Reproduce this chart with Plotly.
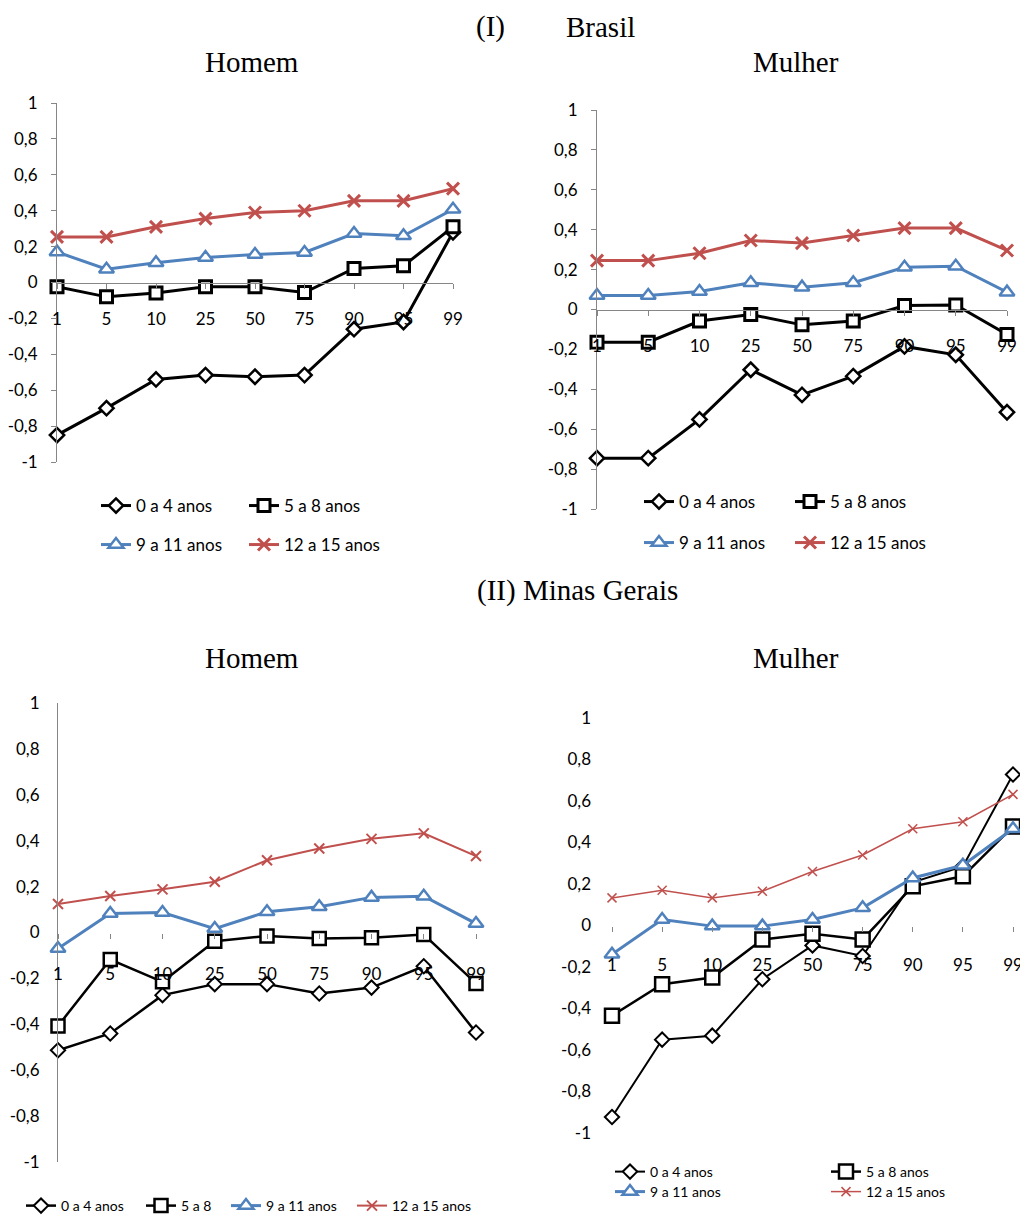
import plotly.graph_objects as go

# page body margin in the viewer is 8px: figure is drawn 8px right/down
OFF = 8
W, H = 1028 - OFF, 1216 - OFF

percentis = ["1", "5", "10", "25", "50", "75", "90", "95", "99"]
series_names = ["0 a 4 anos", "5 a 8 anos", "9 a 11 anos", "12 a 15 anos"]
series_names_p3 = ["0 a 4 anos", "5 a 8", "9 a 11 anos", "12 a 15 anos"]

y_tickvals = [-1, -0.8, -0.6, -0.4, -0.2, 0, 0.2, 0.4, 0.6, 0.8, 1]
y_ticktext = ["-1", "-0,8", "-0,6", "-0,4", "-0,2", "0", "0,2", "0,4", "0,6", "0,8", "1"]

# (I) Brasil - Homem
br_h_0_4 = [-0.85, -0.70, -0.54, -0.516, -0.525, -0.516, -0.26, -0.22, 0.28]
br_h_5_8 = [-0.024, -0.08, -0.058, -0.024, -0.024, -0.056, 0.078, 0.093, 0.31]
br_h_9_11 = [0.17, 0.074, 0.11, 0.139, 0.156, 0.167, 0.273, 0.26, 0.408]
br_h_12_15 = [0.254, 0.254, 0.31, 0.356, 0.39, 0.40, 0.455, 0.455, 0.523]

# (I) Brasil - Mulher
br_m_0_4 = [-0.745, -0.745, -0.551, -0.302, -0.428, -0.334, -0.185, -0.227, -0.515]
br_m_5_8 = [-0.164, -0.164, -0.058, -0.025, -0.077, -0.058, 0.02, 0.023, -0.125]
br_m_9_11 = [0.07, 0.07, 0.09, 0.134, 0.112, 0.134, 0.212, 0.217, 0.087]
br_m_12_15 = [0.245, 0.245, 0.282, 0.346, 0.333, 0.371, 0.408, 0.408, 0.296]

# (II) Minas Gerais - Homem
mg_h_0_4 = [-0.513, -0.44, -0.273, -0.225, -0.225, -0.266, -0.24, -0.147, -0.436]
mg_h_5_8 = [-0.407, -0.118, -0.215, -0.038, -0.015, -0.026, -0.023, -0.009, -0.222]
mg_h_9_11 = [-0.07, 0.083, 0.087, 0.017, 0.09, 0.112, 0.153, 0.158, 0.039]
mg_h_12_15 = [0.124, 0.159, 0.188, 0.221, 0.315, 0.366, 0.408, 0.432, 0.333]

# (II) Minas Gerais - Mulher
mg_m_0_4 = [-0.923, -0.55, -0.531, -0.259, -0.096, -0.147, 0.208, 0.285, 0.728]
mg_m_5_8 = [-0.435, -0.283, -0.251, -0.067, -0.04, -0.067, 0.189, 0.237, 0.477]
mg_m_9_11 = [-0.139, 0.029, -0.003, -0.003, 0.029, 0.085, 0.229, 0.29, 0.466]
mg_m_12_15 = [0.133, 0.17, 0.133, 0.165, 0.26, 0.34, 0.466, 0.50, 0.632]

BLACK = "#000000"
BLUE = "#4F81BD"
RED = "#C0504D"
AXIS = "#868686"
SANS = "Lato"
SERIF = "Liberation Serif"


def px_x(v):
    return (v - OFF) / W


def px_y(v):
    return 1 - (v - OFF) / H


fig = go.Figure()

panels = [
    dict(idx=1, data=[br_h_0_4, br_h_5_8, br_h_9_11, br_h_12_15], names=series_names,
         xr=(57, 453), yr=(103, 462), lw=(3, 3, 3, 3),
         ms=(11, 12, 13, 12), mlw=(2.5, 3, 2.5, 3),
         xline=True, yline=True, yticks=True, xticks=True,
         leg=[(116, 506), (264, 506), (116, 545), (264, 545)], legfont=17, xstand=16, ystand=10),
    dict(idx=2, data=[br_m_0_4, br_m_5_8, br_m_9_11, br_m_12_15], names=series_names,
         xr=(597, 1007), yr=(110, 509), lw=(3, 3, 3, 3),
         ms=(11, 12, 13, 12), mlw=(2.5, 3, 2.5, 3),
         xline=True, yline=True, yticks=True, xticks=True,
         leg=[(659, 502), (810, 502), (659, 543), (810, 543)], legfont=17, xstand=16, ystand=10),
    dict(idx=3, data=[mg_h_0_4, mg_h_5_8, mg_h_9_11, mg_h_12_15], names=series_names_p3,
         xr=(58, 476), yr=(703, 1162), lw=(2.5, 2.5, 3, 2),
         ms=(11, 13, 13, 10), mlw=(2, 2.5, 2.5, 2),
         xline=False, yline=True, yticks=False, xticks=True,
         leg=[(41, 1206), (161, 1206), (246, 1206), (372, 1206)], legfont=14, xstand=21, ystand=14),
    dict(idx=4, data=[mg_m_0_4, mg_m_5_8, mg_m_9_11, mg_m_12_15], names=series_names,
         xr=(612, 1013), yr=(718, 1133), lw=(2, 2.5, 3, 1.5),
         ms=(11, 14, 13, 9), mlw=(2, 2.5, 2.5, 1.5),
         xline=False, yline=False, yticks=False, xticks=True,
         leg=[(630, 1172), (846, 1172), (630, 1192), (846, 1192)], legfont=14, xstand=19, ystand=20),
]

colors = [BLACK, BLACK, BLUE, RED]
symbols = ["diamond", "square", "triangle-up", "x-thin"]

layout = dict(
    width=W, height=H, margin=dict(l=0, r=0, t=0, b=0, pad=0, autoexpand=False),
    paper_bgcolor="white", plot_bgcolor="white", showlegend=True,
    font=dict(family=SANS, color="#000000"),
)

leg_counter = 0
for p in panels:
    i = p["idx"]
    xa = "x" if i == 1 else f"x{i}"
    ya = "y" if i == 1 else f"y{i}"
    xkey = "xaxis" if i == 1 else f"xaxis{i}"
    ykey = "yaxis" if i == 1 else f"yaxis{i}"
    ytop, ybot = p["yr"]
    zero_px = (ytop + ybot) / 2
    for k in range(4):
        leg_counter += 1
        lname = "legend" if leg_counter == 1 else f"legend{leg_counter}"
        col = colors[k]
        sym = symbols[k]
        if sym == "x-thin":
            marker = dict(symbol=sym, size=p["ms"][k], color=col,
                          line=dict(color=col, width=p["mlw"][k]))
        else:
            marker = dict(symbol=sym, size=p["ms"][k], color="white",
                          line=dict(color=col, width=p["mlw"][k]))
        fig.add_trace(go.Scatter(
            x=percentis, y=p["data"][k], mode="lines+markers", name=p["names"][k],
            line=dict(color=col, width=p["lw"][k]), marker=marker,
            xaxis=xa, yaxis=ya, cliponaxis=False, legend=lname, showlegend=True,
        ))
        cx, cy = p["leg"][k]
        layout[lname] = dict(
            x=px_x(cx - 20), y=px_y(cy), xanchor="left", yanchor="middle",
            bgcolor="rgba(0,0,0,0)", borderwidth=0,
            font=dict(family=SANS, size=p["legfont"], color="#000000"),
            itemclick=False, itemdoubleclick=False, tracegroupgap=0,
        )
    layout[xkey] = dict(
        domain=[px_x(p["xr"][0]), px_x(p["xr"][1])],
        type="category", range=[0, 8], anchor="free", position=px_y(zero_px),
        showline=p["xline"], linecolor=AXIS, linewidth=1,
        ticks="outside" if p["xticks"] else "", ticklen=5, tickcolor=AXIS, tickwidth=1,
        ticklabelstandoff=p["xstand"],
        showgrid=False, zeroline=False,
        tickfont=dict(family=SANS, size=17, color="#000000"),
        fixedrange=True,
    )
    layout[ykey] = dict(
        domain=[px_y(ybot), px_y(ytop)], range=[-1, 1],
        anchor=xa, tickvals=y_tickvals, ticktext=y_ticktext,
        showline=p["yline"], linecolor=AXIS, linewidth=1,
        ticks="outside" if p["yticks"] else "", ticklen=5, tickcolor=AXIS, tickwidth=1,
        ticklabelstandoff=p["ystand"],
        showgrid=False, zeroline=False,
        tickfont=dict(family=SANS, size=17, color="#000000"),
        fixedrange=True,
    )

titles = [
    ("(I)", 490, 27),
    ("Brasil", 600, 27),
    ("Homem", 252, 62),
    ("Mulher", 796, 62),
    ("(II) Minas Gerais", 577, 590),
    ("Homem", 252, 658),
    ("Mulher", 796, 658),
]
anns = []
for t, x, y in titles:
    anns.append(dict(text=t, x=px_x(x), y=px_y(y), xref="paper", yref="paper",
                     xanchor="center", yanchor="middle", showarrow=False,
                     font=dict(family=SERIF, size=29, color="#000000")))
layout["annotations"] = anns

fig.update_layout(**layout)
fig.write_html("out.html")
